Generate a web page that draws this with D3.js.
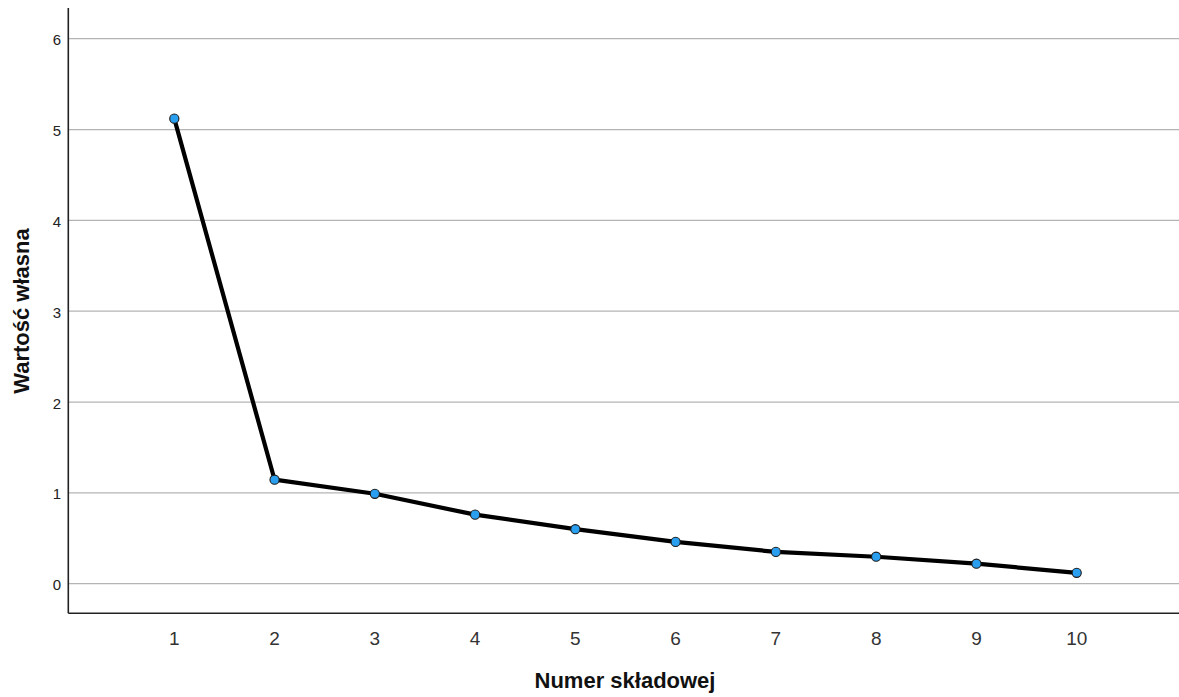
<!DOCTYPE html>
<html><head><meta charset="utf-8">
<script src="https://cdn.jsdelivr.net/npm/d3@7"></script>
<style>body{margin:0;background:#fff}svg{display:block}</style>
</head><body>
<svg id="c" width="1179" height="697"></svg>
<script>
const components = [1,2,3,4,5,6,7,8,9,10];
const eigenvalues = [5.12,1.145,0.99,0.76,0.60,0.46,0.35,0.297,0.22,0.12];
const yTicks = [0,1,2,3,4,5,6];
const xTitle = "Numer składowej";
const yTitle = "Wartość własna";

(function(){
const svg = d3.select("#c");
const pLeft = 68.3, pRight = 1179, pTop = 8, pBottom = 613.3;
const font = "Liberation Sans, Arial, sans-serif";

const x = d3.scaleLinear().domain([1,10]).range([174.3,1076.7]);
const y = d3.scaleLinear().domain([0,6]).range([583.7,38.7]);

// gridlines
svg.append("g").selectAll("line").data(yTicks).join("line")
  .attr("x1", pLeft).attr("x2", pRight)
  .attr("y1", d=>y(d)).attr("y2", d=>y(d))
  .attr("stroke","#b4b4b4").attr("stroke-width",1.2);

// axes lines
svg.append("line").attr("x1",pLeft).attr("x2",pLeft).attr("y1",pTop).attr("y2",pBottom)
  .attr("stroke","#222").attr("stroke-width",1.6);
svg.append("line").attr("x1",pLeft).attr("x2",pRight).attr("y1",pBottom).attr("y2",pBottom)
  .attr("stroke","#222").attr("stroke-width",1.6);

// y tick labels
svg.append("g").selectAll("text").data(yTicks).join("text")
  .attr("x", 61).attr("y", d=>y(d)+6.5)
  .attr("text-anchor","end")
  .attr("font-family",font)
  .attr("font-size",15).attr("fill","#222").text(d=>d);

// x tick labels
svg.append("g").selectAll("text").data(components).join("text")
  .attr("x", d=>x(d)).attr("y", 645)
  .attr("text-anchor","middle")
  .attr("font-family",font)
  .attr("font-size",19).attr("fill","#333").text(d=>d);

// titles
svg.append("text").attr("x",625).attr("y",688)
  .attr("text-anchor","middle")
  .attr("font-family",font)
  .attr("font-size",22).attr("font-weight","bold").attr("fill","#111").text(xTitle);
svg.append("text").attr("transform","translate(28.5,311) rotate(-90)")
  .attr("text-anchor","middle")
  .attr("font-family",font)
  .attr("font-size",22).attr("font-weight","bold").attr("fill","#111").text(yTitle);

const data = components.map((c,i)=>({c, v:eigenvalues[i]}));
svg.append("path").datum(data)
  .attr("d", d3.line().x(d=>x(d.c)).y(d=>y(d.v)))
  .attr("fill","none").attr("stroke","#000").attr("stroke-width",4.2)
  .attr("stroke-linejoin","round");

svg.append("g").selectAll("circle").data(data).join("circle")
  .attr("cx", d=>x(d.c)).attr("cy", d=>y(d.v)).attr("r",4.6)
  .attr("fill","#2a9ff0").attr("stroke","#1a1a1a").attr("stroke-width",1.1);
})();
</script>
</body></html>
